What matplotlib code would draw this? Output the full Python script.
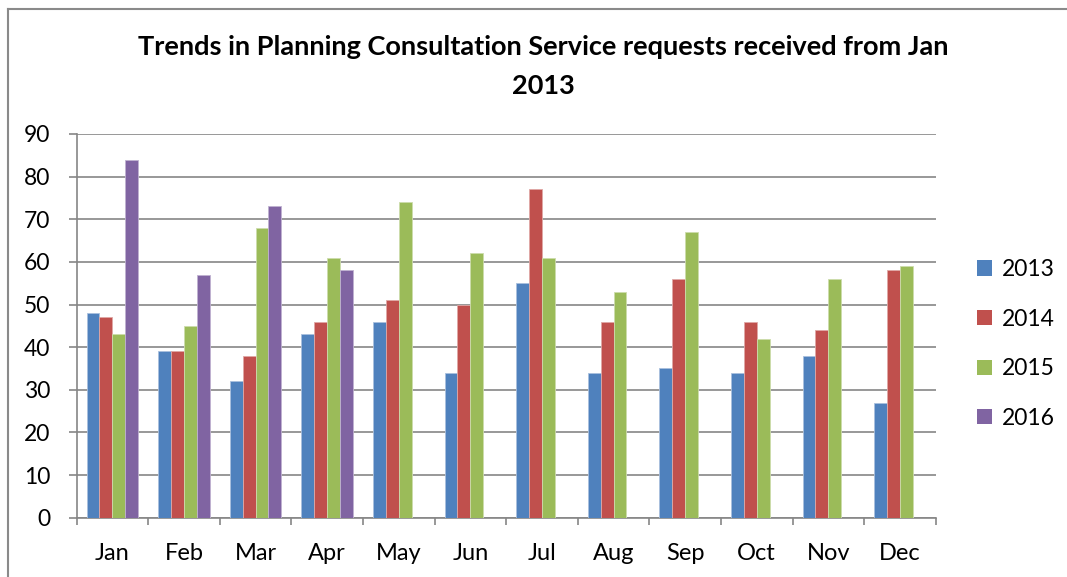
import numpy as np
import matplotlib.pyplot as plt
from matplotlib.lines import Line2D
from matplotlib.patches import Patch

months = ["Jan", "Feb", "Mar", "Apr", "May", "Jun", "Jul", "Aug", "Sep", "Oct", "Nov", "Dec"]
years = ["2013", "2014", "2015", "2016"]
v2013 = [48, 39, 32, 43, 46, 34, 55, 34, 35, 34, 38, 27]
v2014 = [47, 39, 38, 46, 51, 50, 77, 46, 56, 46, 44, 58]
v2015 = [43, 45, 68, 61, 74, 62, 61, 53, 67, 42, 56, 59]
v2016 = [84, 57, 73, 58]
series = [v2013, v2014, v2015, v2016]
colors = ["#4F81BD", "#C0504D", "#9BBB59", "#8064A2"]
edges = ["#a9c0de", "#dfa8a6", "#cddcac", "#bfb1d0"]

plt.rcParams["font.family"] = ["Lato", "DejaVu Sans"]
GRID = "#868686"

fig = plt.figure(figsize=(10.67, 5.77), dpi=100)
ax = fig.add_axes([0.0717, 0.1028, 0.8053, 0.665])

# outer chart frame (left + top, cut off on the right/bottom)
fig.add_artist(Line2D([7.5 / 1067, 7.5 / 1067], [0, 1 - 8.5 / 577], transform=fig.transFigure,
                      color="#8a8a8a", lw=1.5))
fig.add_artist(Line2D([7.5 / 1067, 1], [1 - 8.5 / 577, 1 - 8.5 / 577], transform=fig.transFigure,
                      color="#8a8a8a", lw=1.5))

x = np.arange(len(months))
w = 0.18
for i, vals in enumerate(series):
    xs = x[:len(vals)] + (i - 1.5) * w
    ax.bar(xs, vals, width=w, color=colors[i], edgecolor=edges[i], linewidth=0.6, zorder=3)

ax.set_xlim(-0.5, 11.5)
ax.set_ylim(0, 90)
ax.set_yticks(range(0, 91, 10))
ax.yaxis.grid(True, color=GRID, lw=1.2, zorder=0)
ax.set_axisbelow(True)

ax.set_xticks(x)
ax.set_xticklabels(months)
ax.set_xticks(np.arange(-0.5, 12, 1), minor=True)
ax.tick_params(axis="x", which="major", length=0, pad=18, labelsize=17)
ax.tick_params(axis="x", which="minor", length=5, width=1.2, color=GRID, direction="out")
ax.tick_params(axis="y", length=6, width=1.2, color=GRID, pad=13, labelsize=16.5)

for s in ("top", "right"):
    ax.spines[s].set_visible(False)
for s in ("left", "bottom"):
    ax.spines[s].set_color(GRID)
    ax.spines[s].set_linewidth(1.2)

fig.text(0.509, 0.884, "Trends in Planning Consultation Service requests received from Jan\n2013",
         ha="center", va="center", fontsize=19.5, fontweight="bold", linespacing=1.75)

handles = [Patch(facecolor=c, edgecolor="none") for c in colors]
fig.legend(handles, years, loc="center left", bbox_to_anchor=(0.916, 0.404), frameon=False,
           fontsize=16.5, handlelength=0.65, handleheight=0.65, handletextpad=0.4,
           labelspacing=1.25, borderpad=0, borderaxespad=0)

fig.savefig("out.png", dpi=100)
